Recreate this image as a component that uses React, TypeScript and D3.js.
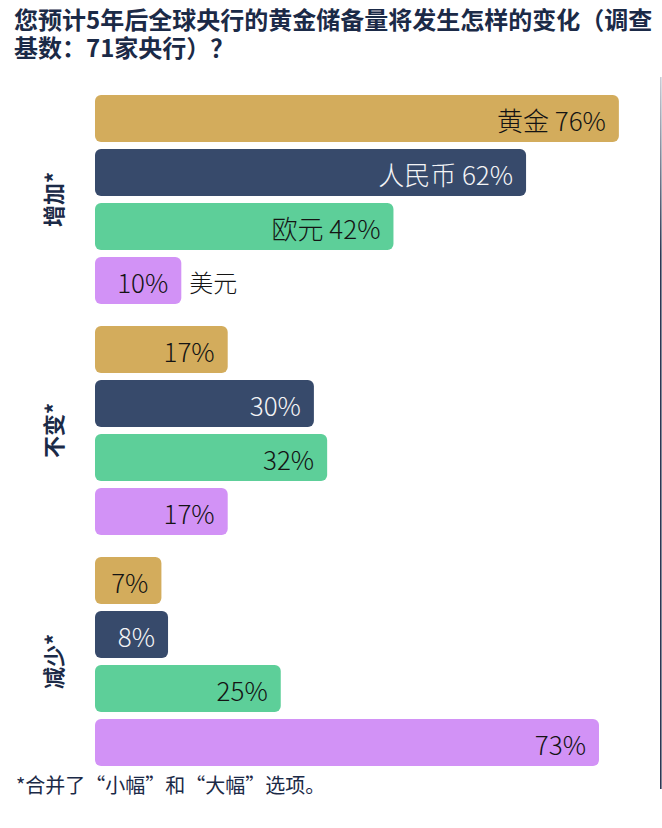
import React, { useEffect } from "react";
import * as d3 from "d3";

const groups = ["增加*", "不变*", "减少*"];
const series = ["黄金", "人民币", "欧元", "美元"];
const gold = [76, 17, 7];
const rmb = [62, 30, 8];
const eur = [42, 32, 25];
const usd = [10, 17, 73];
const seriesValues = [gold, rmb, eur, usd];
const seriesColors = ["#D3AC5C", "#374A6B", "#5DCF99", "#D292F6"];
const seriesText = ["#141414", "#F4F4F6", "#141414", "#141414"];
const titleLines = ["您预计5年后全球央行的黄金储备量将发生怎样的变化（调查", "基数：71家央行）？"];
const footnote = "*合并了“小幅”和“大幅”选项。";

const W = 662;
const H = 828;
const FONT = "'Noto Sans CJK SC', 'Noto Sans', sans-serif";

export default function App() {
  useEffect(() => {
    document.body.style.margin = "0";
  }, []);

  const x0 = 95;
  const width = d3.scaleLinear().domain([0, 100]).range([20, 683]);
  const gy = d3.scaleBand<string>().domain(groups).range([95, 766]).paddingInner(0.0952).paddingOuter(0);
  const sy = d3.scaleBand<string>().domain(series).range([0, gy.bandwidth()]).paddingInner(7 / 54).paddingOuter(0);

  const bars: any[] = [];
  groups.forEach((g, gi) => {
    series.forEach((s, si) => {
      const v = seriesValues[si][gi];
      bars.push({ g, gi, s, si, v });
    });
  });

  return (
    <svg width={W} height={H} style={{ display: "block", background: "#fff" }} fontFamily={FONT}>
      <defs>
        <linearGradient id="edge" x1="0" y1="0" x2="0" y2="1">
          <stop offset="0" stopColor="#c9cdd6" />
          <stop offset="0.25" stopColor="#2c3753" />
          <stop offset="1" stopColor="#2c3753" />
        </linearGradient>
      </defs>
      {titleLines.map((t, i) => (
        <text key={i} x={14} y={29 + i * 28} fontSize={24} fontWeight={700} fill="#1B2A47">
          {t}
        </text>
      ))}
      <rect x={660} y={77} width={1.6} height={712} fill="url(#edge)" />
      {groups.map((g) => {
        const cy = (gy(g) as number) + gy.bandwidth() / 2;
        return (
          <text
            key={g}
            transform={`translate(52,${cy}) rotate(-90)`}
            textAnchor="middle"
            dominantBaseline="central"
            fontSize={22}
            fontWeight={700}
            fill="#1B2A47"
          >
            {g}
          </text>
        );
      })}
      {bars.map((b) => {
        const y = (gy(b.g) as number) + (sy(b.s) as number);
        const w = width(b.v);
        const h = sy.bandwidth();
        const first = b.gi === 0;
        const short = b.v < 20;
        const inside = first && !short ? `${b.s} ${b.v}%` : `${b.v}%`;
        return (
          <g key={b.g + b.s}>
            <rect x={x0} y={y} width={w} height={h} rx={6} ry={6} fill={seriesColors[b.si]} />
            <text
              x={x0 + w - 13}
              y={y + h / 2 + 1}
              textAnchor="end"
              dominantBaseline="central"
              fontSize={26}
              fontWeight={300}
              fill={seriesText[b.si]}
            >
              {inside}
            </text>
            {first && short ? (
              <text
                x={x0 + w + 8}
                y={y + h / 2 + 1}
                dominantBaseline="central"
                fontSize={24}
                fontWeight={300}
                fill="#141414"
              >
                {b.s}
              </text>
            ) : null}
          </g>
        );
      })}
      <text x={16} y={793} fontSize={20} fill="#1B2A47">
        {footnote}
      </text>
    </svg>
  );
}
